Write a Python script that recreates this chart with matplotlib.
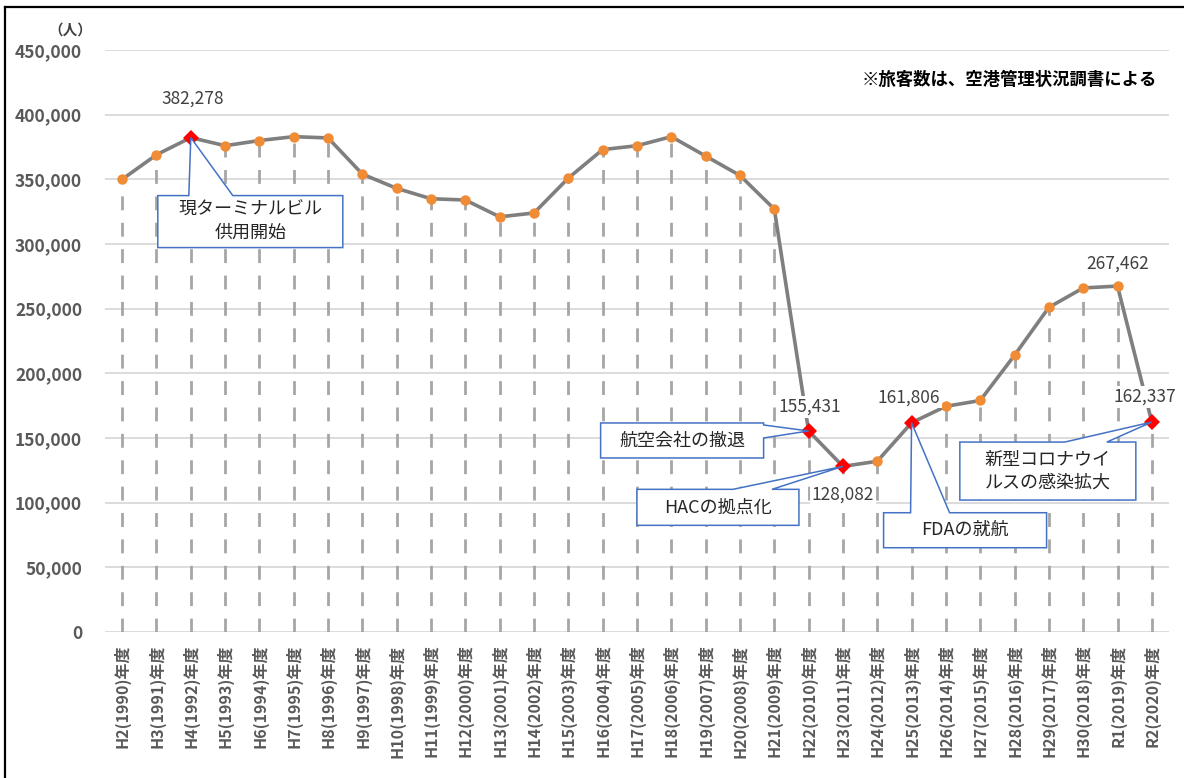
import matplotlib
matplotlib.use("Agg")
import matplotlib.pyplot as plt
from matplotlib.patches import Polygon
from matplotlib.lines import Line2D
from matplotlib.transforms import IdentityTransform
from matplotlib.ticker import FuncFormatter

plt.rcParams['font.family'] = ['Noto Sans CJK JP', 'DejaVu Sans']

categories = ["H2(1990)年度", "H3(1991)年度", "H4(1992)年度", "H5(1993)年度", "H6(1994)年度",
              "H7(1995)年度", "H8(1996)年度", "H9(1997)年度", "H10(1998)年度", "H11(1999)年度",
              "H12(2000)年度", "H13(2001)年度", "H14(2002)年度", "H15(2003)年度", "H16(2004)年度",
              "H17(2005)年度", "H18(2006)年度", "H19(2007)年度", "H20(2008)年度", "H21(2009)年度",
              "H22(2010)年度", "H23(2011)年度", "H24(2012)年度", "H25(2013)年度", "H26(2014)年度",
              "H27(2015)年度", "H28(2016)年度", "H29(2017)年度", "H30(2018)年度", "R1(2019)年度",
              "R2(2020)年度"]
passengers = [350000, 369000, 382278, 376000, 380000, 383000, 382000, 354000, 343000, 335000,
              334000, 321000, 324000, 351000, 373000, 376000, 383000, 368000, 353000, 327000,
              155431, 128082, 132000, 161806, 174500, 179000, 214000, 251000, 266000, 267462,
              162337]
highlight_idx = [2, 20, 21, 23, 30]
label_idx = [2, 20, 21, 23, 29, 30]
yticks = [0, 50000, 100000, 150000, 200000, 250000, 300000, 350000, 400000, 450000]
callout_texts = ["現ターミナルビル\n供用開始", "航空会社の撤退", "HACの拠点化", "FDAの就航",
                 "新型コロナウイ\nルスの感染拡大"]
callout_idx = [2, 20, 21, 23, 30]
note_text = "※旅客数は、空港管理状況調書による"
unit_text = "（人）"

W, H = 1184, 778
fig = plt.figure(figsize=(W / 100, H / 100), dpi=100)
ax = fig.add_axes([105 / W, (H - 632) / H, (1169 - 105) / W, (632 - 50) / H])

x = list(range(len(passengers)))
ax.set_xlim(-0.5, len(passengers) - 0.5)
ax.set_ylim(0, 450000)

# grid
for t in yticks:
    ax.axhline(t, color='#D9D9D9', lw=1.3, zorder=0)

# drop lines
ax.vlines(x, 0, passengers, colors='#A6A6A6', linestyles=(0, (5, 4.5)), lw=2.0, zorder=1)

# main line
ax.plot(x, passengers, color='#7F7F7F', lw=2.6, zorder=2)
norm_x = [i for i in x if i not in highlight_idx]
ax.plot(norm_x, [passengers[i] for i in norm_x], 'o', color='#F08C36', ms=7.5, zorder=3,
        markeredgewidth=0)
ax.plot(highlight_idx, [passengers[i] for i in highlight_idx], 'D', color='#FF0000', ms=8.5,
        zorder=4, markeredgewidth=0)

for s in ax.spines.values():
    s.set_visible(False)
ax.set_yticks(yticks)
ax.yaxis.set_major_formatter(FuncFormatter(lambda v, p: f"{int(v):,}"))
ax.tick_params(axis='y', length=0, pad=16.5, labelsize=12.5, labelcolor='#595959')
for lab in ax.get_yticklabels():
    lab.set_fontweight('bold')
ax.set_xticks(x)
ax.set_xticklabels(categories, rotation=90, fontsize=11.5, fontweight='bold', color='#595959')
ax.tick_params(axis='x', length=0, pad=9)

# data labels
label_offsets = {2: (2, 39), 20: (1, 24), 21: (0, -28), 23: (-3, 25), 29: (0, 22), 30: (-7, 25)}
for i in label_idx:
    dx, dy = label_offsets[i]
    ax.annotate(f"{passengers[i]:,}", (i, passengers[i]), xytext=(dx, dy),
                textcoords='offset pixels', ha='center', va='center', fontsize=12.5,
                color='#404040', zorder=6,
                bbox=dict(boxstyle='square,pad=0.1', fc='white', ec='none'))

# callouts (box in pixel offsets from anchor: left, right, top, bottom; wedge base edge & range)
callout_geom = [
    (-33, 152, -58, -110, 'top', (-2, 42)),
    (-208, -45, 8, -27, 'right', (6, -7)),
    (-206, -44, -23, -59, 'top', (-110, -71)),
    (-28, 135, -90, -125, 'top', (-1, 38)),
    (-192, -16, -20, -78, 'top', (-87, -45)),
]
fig.canvas.draw()
for txt, i, geom in zip(callout_texts, callout_idx, callout_geom):
    px, py = ax.transData.transform((i, passengers[i]))
    L, R, T, B, edge, (b0, b1) = geom
    L, R, T, B = px + L, px + R, py + T, py + B
    if edge == 'top':
        verts = [(L, B), (L, T), (px + b0, T), (px, py), (px + b1, T), (R, T), (R, B)]
    else:
        verts = [(L, B), (L, T), (R, T), (R, py + b0), (px, py), (R, py + b1), (R, B)]
    poly = Polygon(verts, closed=True, fc='white', ec='#4472C4', lw=1.1,
                   transform=IdentityTransform(), zorder=7, clip_on=False)
    fig.add_artist(poly)
    fig.text((L + R) / 2 / W, (T + B) / 2 / H, txt, ha='center', va='center', fontsize=13,
             color='#262626', zorder=8, linespacing=1.35)

# unit & note
fig.text(70 / W, 1 - 30 / H, unit_text, ha='center', va='center', fontsize=10.5,
         fontweight='bold', color='#404040')
fig.text(1157 / W, 1 - 80 / H, note_text, ha='right', va='center', fontsize=12.5,
         fontweight='bold', color='#000000')

# figure border (left and top)
fig.add_artist(Line2D([5 / W, 5 / W], [0, 1 - 7 / H], transform=fig.transFigure,
                      color='black', lw=1.6))
fig.add_artist(Line2D([5 / W, 1], [1 - 7 / H, 1 - 7 / H], transform=fig.transFigure,
                      color='black', lw=1.6))

fig.savefig("out.png", dpi=100)
